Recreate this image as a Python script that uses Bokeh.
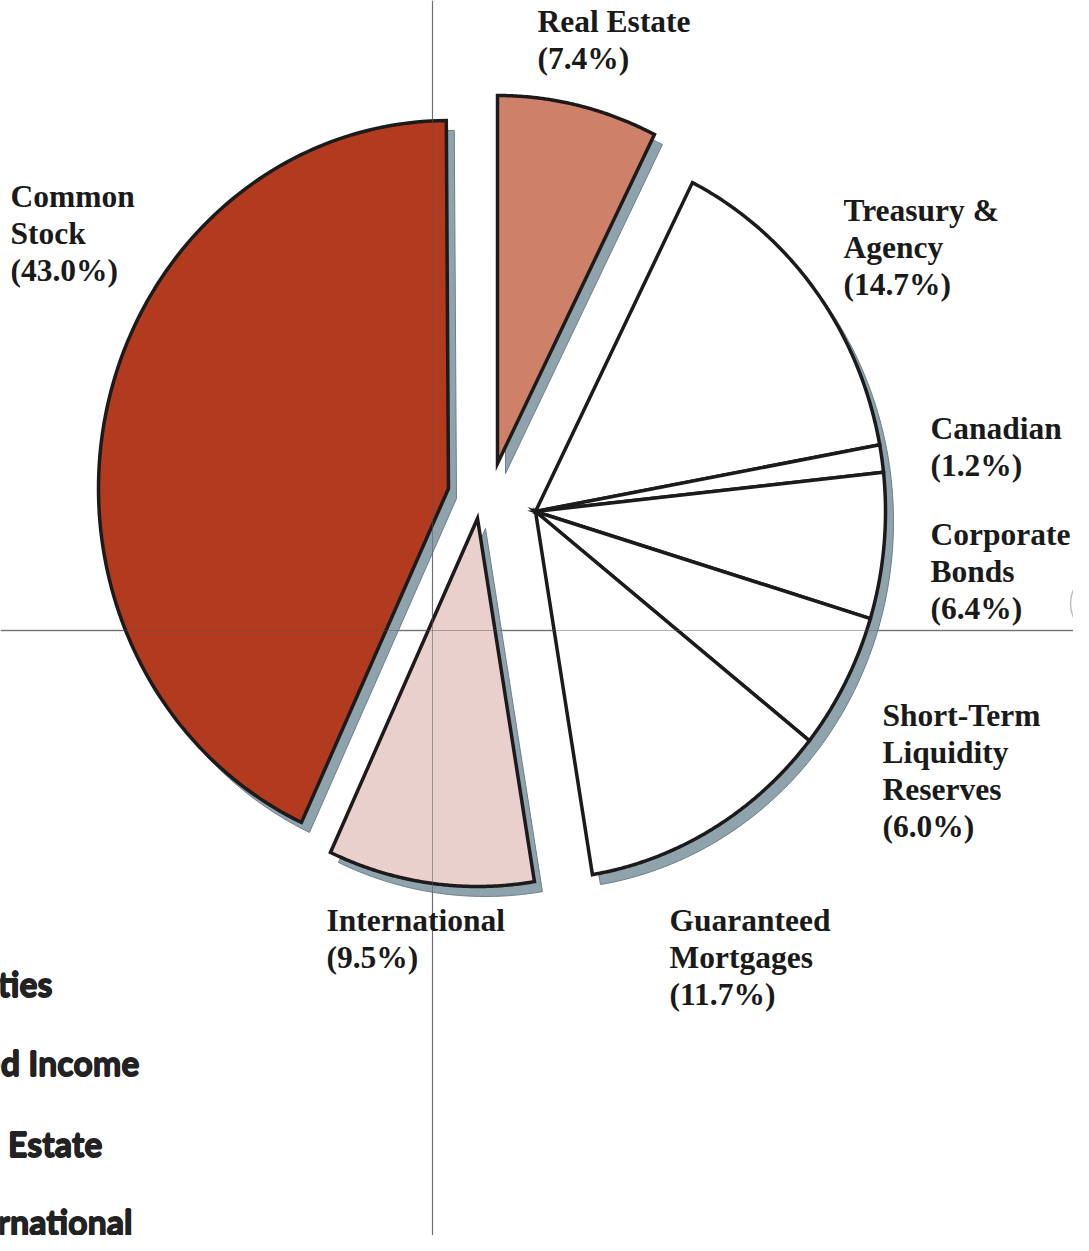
import numpy as np
from bokeh.plotting import figure
from bokeh.models import Range1d
from bokeh.embed import file_html
from bokeh.resources import INLINE
from bokeh.core.properties import value

# ---------------- data ----------------
categories = ["Real Estate", "Treasury & Agency", "Canadian", "Corporate Bonds",
              "Short-Term Liquidity Reserves", "Guaranteed Mortgages",
              "International", "Common Stock"]
shares = [7.4, 14.7, 1.2, 6.4, 6.0, 11.7, 9.5, 43.0]
groups = ["Real Estate", "Fixed Income", "Fixed Income", "Fixed Income",
          "Fixed Income", "Fixed Income", "International", "Equities"]
label_lines = [["Real Estate", "(7.4%)"],
               ["Treasury &", "Agency", "(14.7%)"],
               ["Canadian", "(1.2%)"],
               ["Corporate", "Bonds", "(6.4%)"],
               ["Short-Term", "Liquidity", "Reserves", "(6.0%)"],
               ["Guaranteed", "Mortgages", "(11.7%)"],
               ["International", "(9.5%)"],
               ["Common", "Stock", "(43.0%)"]]
legend_labels = ["Equities", "Fixed Income", "Real Estate", "International"]

# ---------------- styling / layout ----------------
group_fill = {"Equities": "#b23a1f", "Real Estate": "#cf8068",
              "International": "#e9d0cd", "Fixed Income": "#ffffff"}
group_center = {"Equities": (448, 488), "Real Estate": (497, 463),
                "Fixed Income": (535, 511), "International": (477, 518)}
RX, RY = 350, 368
SHADOW = (8, 10)
label_pos = [(537, 21), (843, 210), (930, 428), (930, 534), (882, 715),
             (669, 920), (326, 920), (10, 196)]
LINE_H = 37
legend_pos = [(52, 983), (139, 1062), (102, 1143), (132, 1221)]

W, H = 1073, 1235
p = figure(width=W, height=H, output_backend="svg", toolbar_location=None,
           x_range=Range1d(0, W), y_range=Range1d(H, 0),
           min_border=0)
p.axis.visible = False
p.grid.visible = False
p.outline_line_color = None
p.background_fill_color = "white"


def sector(center, a0, a1, n=120):
    cx, cy = center
    th = np.linspace(a0, a1, n)
    xs = [cx] + list(cx + RX * np.sin(th)) + [cx]
    ys = [cy] + list(cy - RY * np.cos(th)) + [cy]
    return xs, ys


total = 100.0
cum = np.concatenate([[0], np.cumsum(shares)]) / total * 2 * np.pi
starts, ends = cum[:-1], cum[1:]

# group extents for shadows
g_ext = {}
for g, a0, a1 in zip(groups, starts, ends):
    if g in g_ext:
        g_ext[g] = (min(g_ext[g][0], a0), max(g_ext[g][1], a1))
    else:
        g_ext[g] = (a0, a1)

# crosshair registration lines (behind)
p.line([432, 432], [0, 1251], line_color="#6f6f6f", line_width=1.2, alpha=0.8)
p.line([0, 1089], [630, 630], line_color="#6f6f6f", line_width=1.4, alpha=0.8)

# shadows
sx, sy = [], []
for g, (a0, a1) in g_ext.items():
    c = group_center[g]
    xs, ys = sector((c[0] + SHADOW[0], c[1] + SHADOW[1]), a0, a1)
    sx.append(xs)
    sy.append(ys)
p.patches(sx, sy, fill_color="#8fa3ad", line_color="#6d7f88", line_width=1)

# slices
px, py, fills = [], [], []
for g, a0, a1 in zip(groups, starts, ends):
    xs, ys = sector(group_center[g], a0, a1)
    px.append(xs)
    py.append(ys)
    fills.append(group_fill[g])
p.patches(px, py, fill_color=fills, line_color="#1c1a1a", line_width=3.5,
          line_join="miter")

# registration lines visible again above slices (printed over)
p.line([432, 432], [0, 1251], line_color="#555555", line_width=1, alpha=0.55)
p.line([0, 1089], [630, 630], line_color="#555555", line_width=1, alpha=0.45)

# small registration arc at right edge
p.arc(x=[1104], y=[603], radius=34, start_angle=2.6, end_angle=3.7,
      line_color="#bdbdbd", line_width=1.5)

# labels
tx, ty, tt = [], [], []
for (x0, y0), lines in zip(label_pos, label_lines):
    for i, s in enumerate(lines):
        tx.append(x0)
        ty.append(y0 + i * LINE_H)
        tt.append(s)
p.text(tx, ty, text=tt, text_font=value("Liberation Serif"),
       text_font_style="bold", text_font_size="31.5px", text_color="#1a1a1a",
       text_align="left", text_baseline="middle")

# cut-off legend at left edge (heavy sans, overdrawn to thicken)
lx = np.array([q[0] for q in legend_pos], dtype=float)
ly = np.array([q[1] for q in legend_pos], dtype=float)
for dx, dy in [(-0.7, 0), (0.7, 0), (0, 0.6), (0, -0.6)]:
    p.text(lx + dx, ly + dy, text=legend_labels,
           text_font=value("Lato"), text_font_style="bold", text_font_size="34px",
           text_color="#222222", text_align="right", text_baseline="middle")

open("out.html", "w").write(file_html(p, INLINE))
